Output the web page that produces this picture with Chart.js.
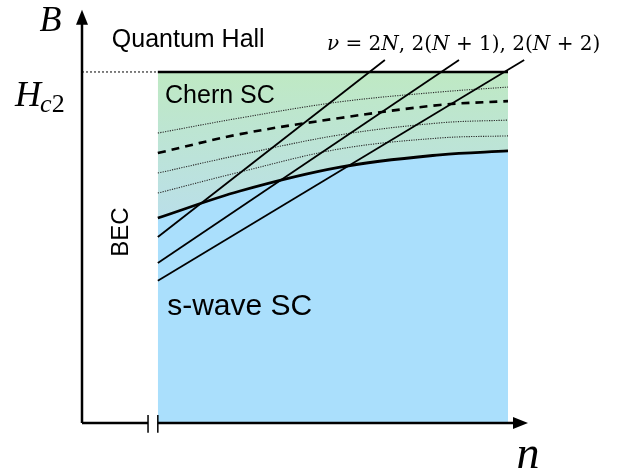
<!DOCTYPE html>
<html>
<head>
<meta charset="utf-8">
<script src="https://cdn.jsdelivr.net/npm/chart.js@4"></script>
<style>
  html, body { margin: 0; padding: 0; background: #fff; }
  #wrap { width: 620px; height: 474px; }
</style>
</head>
<body>
<div id="wrap"><canvas id="phase"></canvas></div>
<script>
// --- phase diagram data (n = density, B = field, Hc2 = 1) ---
const hc2 = 1.0;
const boxLeft = 1.78;   // BEC / SC crossover
const boxRight = 10.0;

const nCurve  = [1.78, 3.71, 6.06, 8.40, 10.0];
const bLower  = [0.584, 0.661, 0.729, 0.764, 0.775];  // s-wave / Chern boundary
const bDot3   = [0.655, 0.715, 0.781, 0.812, 0.818];
const bDot2   = [0.712, 0.764, 0.821, 0.855, 0.863];
const bDashed = [0.769, 0.823, 0.869, 0.906, 0.917];
const bDot1   = [0.826, 0.869, 0.915, 0.943, 0.957];

// Landau level lines nu = 2N, 2(N+1), 2(N+2)
const llStartB = [0.530, 0.456, 0.405];
const llEndN   = [7.11, 8.85, 10.38];
const llEndB   = 1.034;

const xBreak = [1.55, 1.78];
const xAxisEnd = 10.16;
const yAxisEnd = 1.137;

const pts = (xs, ys) => xs.map((x, i) => ({ x, y: ys[i] }));

function bandGradient(context) {
  const chart = context.chart;
  const { ctx, chartArea, scales } = chart;
  if (!chartArea) return '#bde5d5';
  const y0 = scales.y.getPixelForValue(hc2);
  const y1 = scales.y.getPixelForValue(bLower[0]);
  const g = ctx.createLinearGradient(0, y0, 0, y1);
  g.addColorStop(0, '#bfe9c3');
  g.addColorStop(1, '#badfe9');
  return g;
}

const curve = { showLine: true, pointRadius: 0, tension: 0.35, fill: false };
const straight = { showLine: true, pointRadius: 0, tension: 0, fill: false, clip: false };

// chart.js paints dataset 0 on top, so lines come first and the fills last
const datasets = [];
llStartB.forEach((b, i) => {
  datasets.push({ ...straight, data: [{ x: boxLeft, y: b }, { x: llEndN[i], y: llEndB }], borderColor: '#000', borderWidth: 1.8 });
});
datasets.push(
  { ...curve, data: pts(nCurve, bLower), borderColor: '#000', borderWidth: 2.8 },
  { ...curve, data: pts(nCurve, bDashed), borderColor: '#000', borderWidth: 2.6, borderDash: [8, 6] },
  { ...curve, data: pts(nCurve, bDot1), borderColor: '#2a2a2a', borderWidth: 1.1, borderDash: [1.2, 1.2] },
  { ...curve, data: pts(nCurve, bDot2), borderColor: '#2a2a2a', borderWidth: 1.1, borderDash: [1.2, 1.2] },
  { ...curve, data: pts(nCurve, bDot3), borderColor: '#2a2a2a', borderWidth: 1.1, borderDash: [1.2, 1.2] },
  // Hc2 line
  { ...straight, data: [{ x: boxLeft, y: hc2 }, { x: boxRight, y: hc2 }], borderColor: '#000', borderWidth: 2.5 },
  { ...straight, data: [{ x: 0, y: hc2 }, { x: boxLeft, y: hc2 }], borderColor: '#000', borderWidth: 1, borderDash: [2, 2] },
  // axes
  { ...straight, data: [{ x: 0, y: 0 }, { x: 0, y: yAxisEnd }], borderColor: '#000', borderWidth: 2.5 },
  { ...straight, data: [{ x: 0, y: 0 }, { x: xBreak[0], y: 0 }], borderColor: '#000', borderWidth: 2.5 },
  { ...straight, data: [{ x: xBreak[1], y: 0 }, { x: xAxisEnd, y: 0 }], borderColor: '#000', borderWidth: 2.5 },
  { ...straight, data: [{ x: xBreak[0], y: 0.023 }, { x: xBreak[0], y: -0.028 }], borderColor: '#000', borderWidth: 1.5 },
  { ...straight, data: [{ x: xBreak[1], y: 0.023 }, { x: xBreak[1], y: -0.028 }], borderColor: '#000', borderWidth: 1.5 },
  // fills
  { ...curve, data: pts(nCurve, bLower), borderWidth: 0, borderColor: 'rgba(0,0,0,0)', backgroundColor: bandGradient, fill: { target: { value: hc2 } } },
  { ...curve, data: pts(nCurve, bLower), borderWidth: 0, borderColor: 'rgba(0,0,0,0)', backgroundColor: '#aadffc', fill: 'origin' }
);

const sansLabels = [
  { text: 'Quantum Hall', n: 0.70, b: 1.071, size: 25 },
  { text: 'Chern SC', n: 1.95, b: 0.912, size: 25 },
  { text: 's-wave SC', n: 2.0, b: 0.308, size: 30 },
];

function rich(ctx, segs, x, y, size, family) {
  segs.forEach(([t, it]) => {
    ctx.font = (it ? 'italic ' : '') + size + 'px ' + (family || '"Liberation Serif"');
    ctx.fillText(t, x, y);
    x += ctx.measureText(t).width;
  });
  return x;
}

const decor = {
  id: 'decor',
  afterDatasetsDraw(chart) {
    const { ctx, scales: { x, y } } = chart;
    ctx.save();
    ctx.fillStyle = '#000';
    // arrow heads
    const yt = y.getPixelForValue(1.177), xa = x.getPixelForValue(0);
    ctx.beginPath();
    ctx.moveTo(xa, yt); ctx.lineTo(xa - 6, yt + 15); ctx.lineTo(xa + 6, yt + 15); ctx.closePath(); ctx.fill();
    const xt = x.getPixelForValue(10.47), ya = y.getPixelForValue(0);
    ctx.beginPath();
    ctx.moveTo(xt, ya); ctx.lineTo(xt - 15, ya - 6); ctx.lineTo(xt - 15, ya + 6); ctx.closePath(); ctx.fill();

    ctx.textBaseline = 'alphabetic';
    ctx.textAlign = 'left';
    sansLabels.forEach(l => {
      ctx.font = l.size + 'px "Liberation Sans"';
      ctx.fillText(l.text, x.getPixelForValue(l.n), y.getPixelForValue(l.b));
    });
    // BEC rotated
    ctx.save();
    ctx.translate(x.getPixelForValue(0.915), y.getPixelForValue(0.544));
    ctx.rotate(-Math.PI / 2);
    ctx.textAlign = 'center';
    ctx.textBaseline = 'middle';
    ctx.font = '24px "Liberation Sans"';
    ctx.fillText('BEC', 0, 0);
    ctx.restore();

    // math labels
    rich(ctx, [['B', true]], x.getPixelForValue(-1.0), y.getPixelForValue(1.117), 36);
    const hx = rich(ctx, [['H', true]], x.getPixelForValue(-1.57), y.getPixelForValue(0.903), 36);
    rich(ctx, [['c', true], ['2', false]], hx - 1, y.getPixelForValue(0.886), 26);
    rich(ctx, [['n', true]], x.getPixelForValue(10.2), y.getPixelForValue(-0.128), 46);
    rich(ctx, [['ν', true], [' = 2', false], ['N', true], [', 2(', false], ['N', true],
               [' + 1), 2(', false], ['N', true], [' + 2)', false]],
         x.getPixelForValue(5.75), y.getPixelForValue(1.063), 20, '"DejaVu Serif"');
    ctx.restore();
  }
};

new Chart(document.getElementById('phase'), {
  type: 'scatter',
  data: { datasets },
  options: {
    responsive: true,
    maintainAspectRatio: false,
    animation: false,
    layout: { padding: { left: 82, right: 90.7, top: 8.8, bottom: 15.9 } },
    scales: {
      x: { type: 'linear', min: 0, max: 10.5, display: false },
      y: { type: 'linear', min: -0.1, max: 1.18, display: false },
    },
    plugins: { legend: { display: false }, tooltip: { enabled: false } }
  },
  plugins: [decor]
});
</script>
</body>
</html>
